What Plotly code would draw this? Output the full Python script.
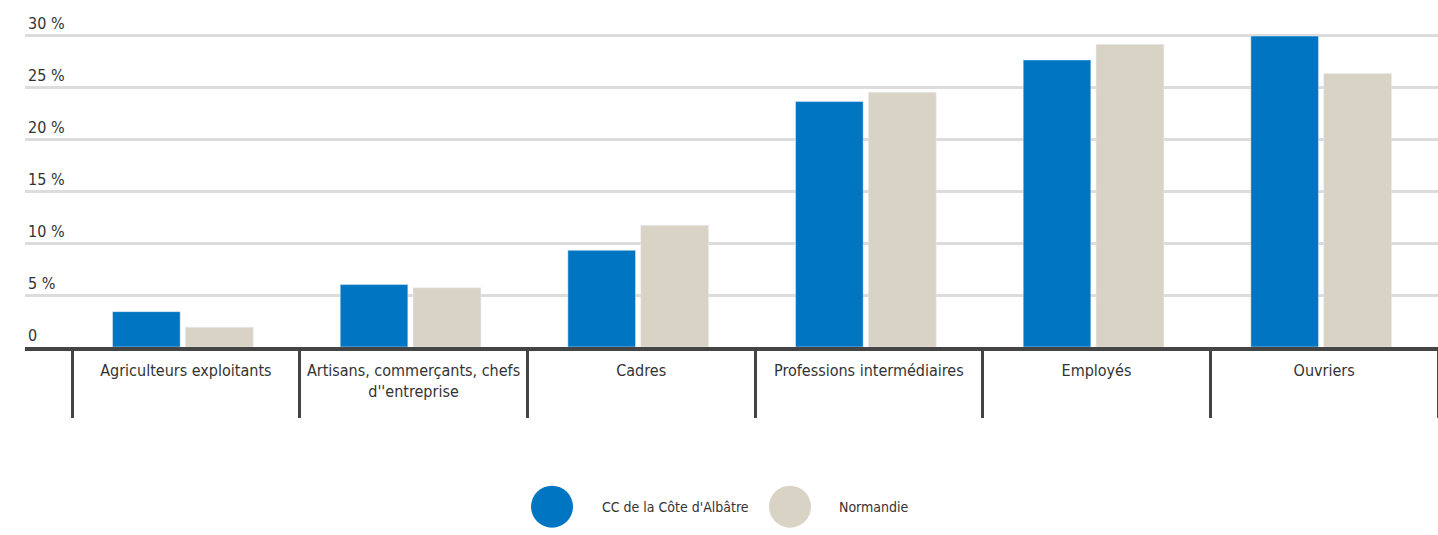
import plotly.graph_objects as go

categories = ["Agriculteurs exploitants", "Artisans, commerçants, chefs<br>d''entreprise", "Cadres",
              "Professions intermédiaires", "Employés", "Ouvriers"]
series_names = ["CC de la Côte d'Albâtre", "Normandie"]
cc_values = [3.4, 6.0, 9.3, 23.6, 27.6, 29.9]
normandie_values = [1.9, 5.7, 11.7, 24.5, 29.1, 26.3]
y_tickvals = [0, 5, 10, 15, 20, 25, 30]
y_ticktext = ["0", "5 %", "10 %", "15 %", "20 %", "25 %", "30 %"]

BLUE = "#0075C2"
BEIGE = "#D9D3C6"
DARK = "#444444"
TEXT = "#333333"
FONT = "DejaVu Sans Condensed, sans-serif"

W, H = 1438, 535
L, R, T, B = 25, 0, 8, 188
PX_PER_UNIT = 10.4
idx = list(range(len(categories)))
plot_w = W - L - R
plot_h = H - T - B
ymax = plot_h / PX_PER_UNIT

fig = go.Figure()
fig.add_trace(go.Bar(x=idx, y=cc_values, name=series_names[0], marker_color=BLUE,
                     width=0.297, offset=-0.322, showlegend=False))
fig.add_trace(go.Bar(x=idx, y=normandie_values, name=series_names[1], marker_color=BEIGE,
                     width=0.298, offset=-0.002, showlegend=False))
fig.add_trace(go.Scatter(x=[None], y=[None], xaxis="x2", showlegend=False, hoverinfo="skip"))

xr = [-0.5 - 47 / 227.5, len(categories) - 0.5]

fig.update_layout(
    width=W, height=H,
    margin=dict(l=L, r=R, t=T, b=B),
    plot_bgcolor="white", paper_bgcolor="white",
    barmode="overlay",
    font=dict(family=FONT, size=16, color=TEXT),
    xaxis=dict(range=xr, tickmode="array", tickvals=idx, ticktext=categories,
               ticks="", showgrid=False, zeroline=False, ticklabelstandoff=6,
               showline=True, linecolor=DARK, linewidth=4,
               tickfont=dict(family=FONT, size=16, color=TEXT)),
    xaxis2=dict(range=xr, overlaying="x", anchor="y", side="bottom",
                tickmode="array", tickvals=[i - 0.5 for i in range(len(categories) + 1)],
                ticks="outside", ticklen=70, tickwidth=3, tickcolor=DARK,
                showticklabels=False, showgrid=False, zeroline=False, showline=False),
    yaxis=dict(range=[0, ymax], tickmode="array", tickvals=y_tickvals, ticktext=y_ticktext,
               ticklabelposition="inside top", showgrid=True, gridcolor="#DCDCDC", gridwidth=2.5,
               zeroline=False, showline=False, ticks="",
               tickfont=dict(family=FONT, size=16, color=TEXT)),
)

leg_y = (347 - 506.7) / plot_h
legend_items = [(552, 600, BLUE, series_names[0]), (790, 837, BEIGE, series_names[1])]
for cx, tx, col, name in legend_items:
    fig.add_shape(type="circle", xref="paper", yref="paper",
                  xsizemode="pixel", ysizemode="pixel",
                  xanchor=(cx - L) / plot_w, yanchor=leg_y,
                  x0=-21, x1=21, y0=-21, y1=21,
                  fillcolor=col, line=dict(width=0))
    fig.add_annotation(xref="paper", yref="paper", x=(tx - L) / plot_w, y=leg_y,
                       xanchor="left", yanchor="middle", text=name, showarrow=False,
                       font=dict(family=FONT, size=14, color=TEXT))

fig.write_html("out.html", config={"displayModeBar": False},
               post_script="document.body.style.margin='0';document.body.style.overflow='hidden';")
